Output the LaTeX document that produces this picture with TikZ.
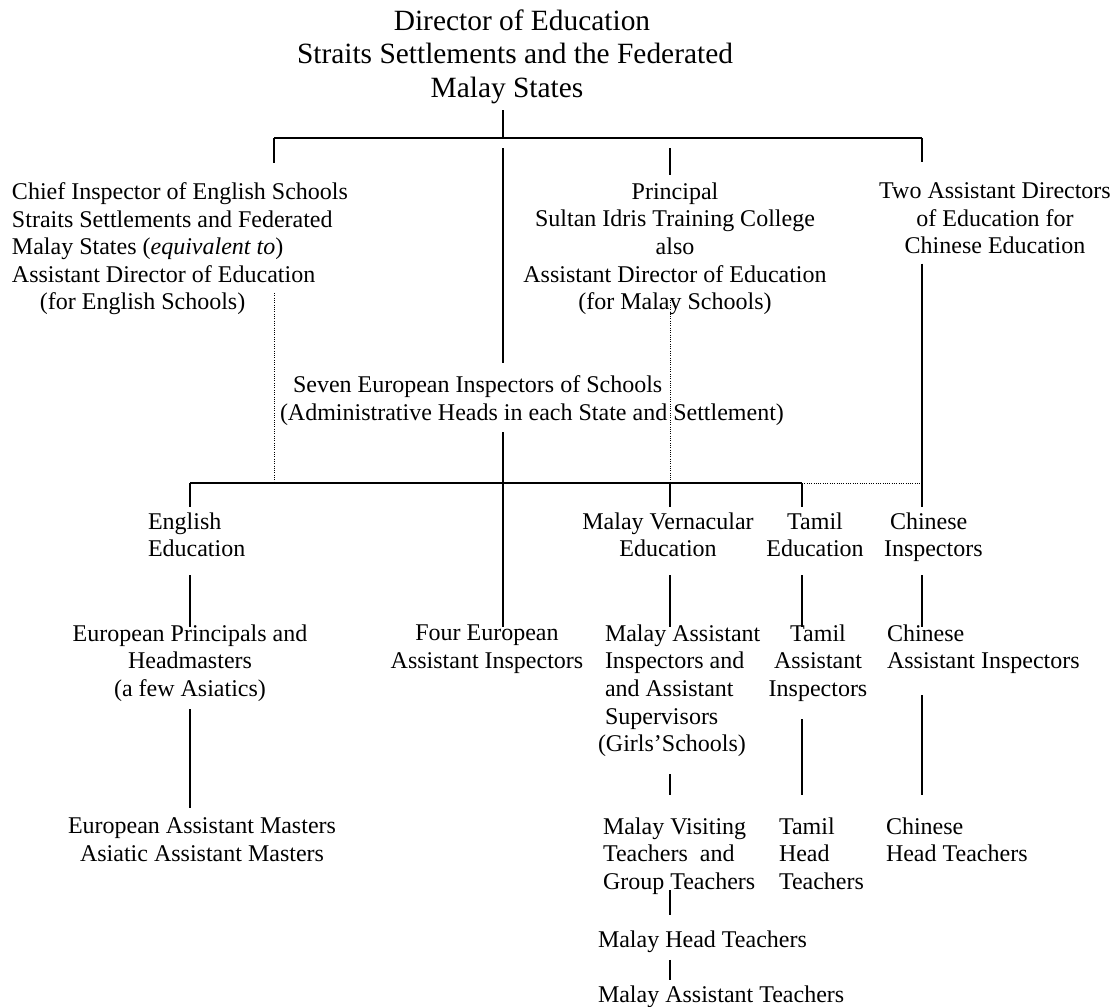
\documentclass[tikz,border=0pt]{standalone}
\usepackage{fontspec}
\setmainfont{Liberation Serif}
\newcommand{\bodyfnt}{\fontsize{24}{27.6}\selectfont}
\newcommand{\titlefnt}{\fontsize{29.4}{33.8}\selectfont}
\tikzset{
 txt/.style={inner sep=0pt, outer sep=0pt, font=\bodyfnt, yshift=19.32pt,
   execute at begin node=\strut, execute at end node=\strut},
 ttl/.style={inner sep=0pt, outer sep=0pt, font=\titlefnt, yshift=23.66pt,
   execute at begin node=\strut, execute at end node=\strut, align=center, anchor=north},
 ctr/.style={txt, align=center, anchor=north},
 lft/.style={txt, align=left, anchor=north west},
 conn/.style={line width=1.8pt},
 dots/.style={line width=1pt, dash pattern=on 0.9pt off 1.4pt},
}
\begin{document}
\begin{tikzpicture}[x=1pt,y=-1pt]
\useasboundingbox (0,0) rectangle (1117,1007);

% ---- text nodes
\node[ttl] (title) at (515,33) {\hspace*{14pt}Director of Education\\Straits Settlements and the Federated\\\hspace*{-16pt}Malay States};

\node[lft] (chief) at (12,202) {Chief Inspector of English Schools\\Straits Settlements and Federated\\Malay States (\textit{equivalent to})\\Assistant Director of Education\\\hspace*{28pt}(for English Schools)};
\node[ctr] (principal) at (675,202) {Principal\\Sultan Idris Training College\\also\\Assistant Director of Education\\(for Malay Schools)};
\node[ctr] (two) at (995,202) {Two Assistant Directors\\of Education for\\Chinese Education};

\node[lft] (seven) at (280,395) {\hspace*{13pt}Seven European Inspectors of Schools\\(Administrative Heads in each State and Settlement)};

\node[lft] (eng) at (148,532) {English\\Education};
\node[ctr] (malv) at (668,532) {Malay Vernacular\\Education};
\node[ctr] (tam) at (815,532) {Tamil\\Education};
\node[lft] (chins) at (884,532) {\hspace*{6pt}Chinese\\Inspectors};

\node[ctr] (eprin) at (190,644) {European Principals and\\Headmasters\\(a few Asiatics)};
\node[ctr] (four) at (487,644) {Four European\\Assistant Inspectors};
\node[lft] (masst) at (605,644) {Malay Assistant\\Inspectors and\\and Assistant\\Supervisors\\\hspace*{-7pt}(Girls’Schools)};
\node[ctr] (tasst) at (818,644) {Tamil\\Assistant\\Inspectors};
\node[lft] (chasst) at (887,644) {Chinese\\Assistant Inspectors};

\node[ctr] (eam) at (202,837) {European Assistant Masters\\Asiatic Assistant Masters};
\node[lft] (mvis) at (603,837) {Malay Visiting\\Teachers~ and\\Group Teachers};
\node[lft] (thead) at (779,837) {Tamil\\Head\\Teachers};
\node[lft] (chhead) at (886,837) {Chinese\\Head Teachers};

\node[lft] (mhead) at (598,947) {Malay Head Teachers};
\node[lft] (masstt) at (598,1002) {Malay Assistant Teachers};

% ---- junctions
\coordinate (jtop) at (503,138);
\coordinate (barL) at (274,138);
\coordinate (barR) at (922,138);
\coordinate (ptop) at (670,138);
\coordinate (jlow) at (503,483);
\coordinate (lowL) at (190,483);
\coordinate (lowM) at (670,483);
\coordinate (lowT) at (802,483);
\coordinate (lowC) at (922,483);
\coordinate (dotA) at (274,293);
\coordinate (dotB) at (670,300);

% ---- solid connectors
\draw[conn, shorten <=2.3pt] (title.south -| jtop) -- (jtop);
\draw[conn] (barL) -- (barR);
\draw[conn, shorten >=19.7pt] (barL) -- (barL |- chief.north);
\draw[conn, shorten >=20.7pt] (barR) -- (barR |- two.north);
\draw[conn, shorten <=10pt, shorten >=7.7pt] (ptop) -- (ptop |- principal.north);
\draw[conn, shorten <=10pt, shorten >=12.7pt] (jtop) -- (jtop |- seven.north);
\draw[conn, shorten <=1.5pt, shorten >=5.7pt] (two.south -| barR) -- (barR |- chins.north);
\draw[conn, shorten <=4pt, shorten >=-2pt] (seven.south -| jlow) -- (jlow |- four.north);

\draw[conn] (lowL) -- (lowT);
\draw[conn, shorten >=5.7pt] (lowL) -- (lowL |- eng.north);
\draw[conn, shorten >=5.7pt] (lowM) -- (lowM |- malv.north);
\draw[conn, shorten >=5.7pt] (lowT) -- (lowT |- tam.north);

\draw[conn, shorten <=10pt, shorten >=-2pt] (eng.south -| lowL) -- (eprin.north -| lowL);
\draw[conn, shorten <=10pt, shorten >=-2pt] (malv.south -| lowM) -- (masst.north -| lowM);
\draw[conn, shorten <=10pt, shorten >=-2pt] (tam.south -| lowT) -- (tasst.north -| lowT);
\draw[conn, shorten <=10pt, shorten >=-2pt] (chins.south -| lowC) -- (chasst.north -| lowC);

\draw[conn, shorten <=4.5pt, shorten >=9.7pt] (eprin.south -| lowL) -- (eam.north -| lowL);
\draw[conn, shorten <=14.3pt, shorten >=22.7pt] (masst.south -| lowM) -- (mvis.north -| lowM);
\draw[conn, shorten <=14.5pt, shorten >=22.7pt] (tasst.south -| lowT) -- (thead.north -| lowT);
\draw[conn, shorten <=18pt, shorten >=22.7pt] (chasst.south -| lowC) -- (chhead.north -| lowC);
\draw[conn, shorten <=-7.5pt, shorten >=12.7pt] (mvis.south -| lowM) -- (mhead.north -| lowM);
\draw[conn, shorten <=4.7pt, shorten >=2.7pt] (mhead.south -| lowM) -- (masstt.north -| lowM);

% ---- dotted connectors
\draw[dots] (dotA) -- (dotA |- lowL);
\draw[dots] (dotB) -- (lowM);
\draw[dots] (lowT) -- (lowC);
\end{tikzpicture}
\end{document}
